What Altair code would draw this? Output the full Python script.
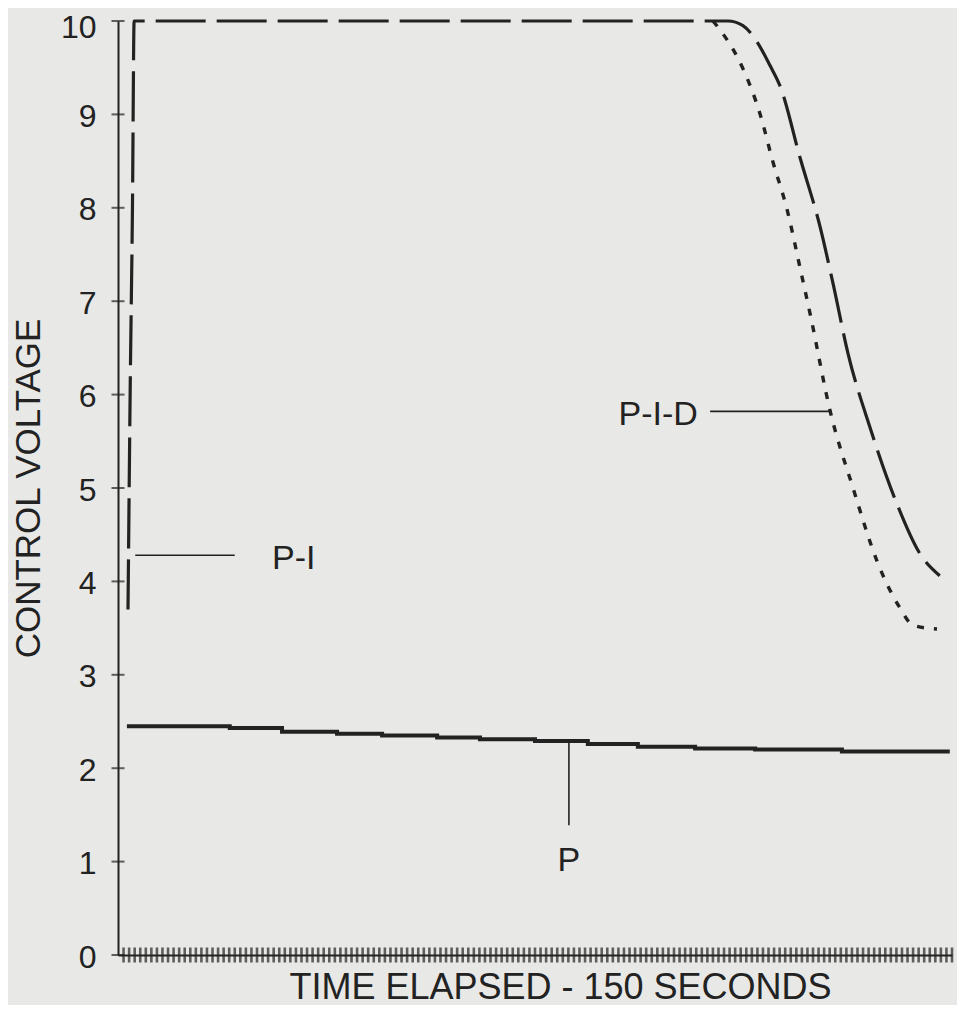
import altair as alt
import pandas as pd

# ---- data ----
# P-I controller (long dashes)
pi_t = [1.8, 2.2, 2.6, 2.9, 106.8, 109.7, 112.4, 114.9, 117.3, 119.1, 122.7, 126.3, 128.6, 131.3, 135.3, 140.1, 144.2, 147.8]
pi_v = [3.7, 6.1, 8.0, 10.0, 10.0, 10.0, 9.95, 9.78, 9.52, 9.30, 8.53, 7.79, 7.19, 6.44, 5.64, 4.83, 4.30, 4.06]

# P-I-D controller (short dashes)
pid_t = [107.0, 108.6, 112.4, 115.5, 117.8, 120.3, 122.7, 124.5, 128.1, 132.2, 136.5, 140.6, 143.0, 147.3]
pid_v = [10.0, 9.88, 9.49, 9.00, 8.49, 7.99, 7.35, 6.86, 5.82, 5.00, 4.22, 3.72, 3.53, 3.49]

# P controller (solid, stepped)
p_t = [1.6, 20.1, 29.5, 39.4, 47.5, 57.4, 65.1, 75.0, 84.5, 93.5, 103.8, 114.6, 130.2, 149.6]
p_v = [2.45, 2.43, 2.39, 2.37, 2.35, 2.33, 2.31, 2.29, 2.26, 2.23, 2.21, 2.20, 2.18, 2.18]

# axis ticks
y_ticks = list(range(0, 11))
x_ticks = list(range(1, 151))

# labels and leader lines
label_text = ["P-I", "P-I-D", "P"]
label_t = [27.7, 104.3, 81.1]
label_v = [4.24, 5.78, 1.01]
label_align = ["left", "right", "center"]

leader_t1 = [3.1, 106.5, 81.1]
leader_t2 = [21.0, 128.4, 81.1]
leader_v1 = [4.28, 5.82, 2.29]
leader_v2 = [4.28, 5.82, 1.39]

INK = "#222222"
FONT = "Liberation Sans"
W, H = 834, 934

xs = alt.Scale(domain=[0, 150], nice=False, zero=False)
ys = alt.Scale(domain=[0, 10], nice=False, zero=True)

x_axis = alt.Axis(
    labels=False, ticks=False, tickSize=0, grid=False, domain=True,
    domainColor=INK, domainWidth=2,
    title="TIME ELAPSED - 150 SECONDS", titleFont=FONT, titleFontSize=36,
    titleFontWeight="normal", titleColor=INK, titleX=442, titleY=32,
    titleAlign="center", titleBaseline="middle",
)
y_axis = alt.Axis(
    values=y_ticks, ticks=False, tickSize=0, grid=False, domain=True,
    domainColor=INK, domainWidth=2,
    labelFont=FONT, labelFontSize=32, labelColor=INK, labelPadding=22,
    labelBaseline="middle",
    labelOffset={"condition": {"test": "datum.value == 10", "value": 6}, "value": 2},
    title="CONTROL VOLTAGE", titleFont=FONT, titleFontSize=35,
    titleFontWeight="normal", titleColor=INK, titleAngle=270,
    titleX=-90, titleY=H / 2, titleAlign="center", titleBaseline="middle",
)


def X(field):
    return alt.X(field, type="quantitative", scale=xs, axis=x_axis)


def Y(field):
    return alt.Y(field, type="quantitative", scale=ys, axis=y_axis)


pi_df = pd.DataFrame({"t": pi_t, "v": pi_v})
pid_df = pd.DataFrame({"t": pid_t, "v": pid_v})
p_df = pd.DataFrame({"t": p_t, "v": p_v})
yt_df = pd.DataFrame({"v": y_ticks})
xt_df = pd.DataFrame({"t": x_ticks})
lab_df = pd.DataFrame({"label": label_text, "t": label_t, "v": label_v, "align": label_align})
lead_df = pd.DataFrame({"t": leader_t1, "t2": leader_t2, "v": leader_v1, "v2": leader_v2})

p_line = alt.Chart(p_df).mark_line(
    color=INK, strokeWidth=4, interpolate="step-after"
).encode(x=X("t"), y=Y("v"))

pi_line = alt.Chart(pi_df).mark_line(
    color=INK, strokeWidth=3.2, strokeDash=[50, 11], interpolate="monotone"
).encode(x=X("t"), y=Y("v"))

pid_line = alt.Chart(pid_df).mark_line(
    color=INK, strokeWidth=3.4, strokeDash=[7, 10], interpolate="monotone"
).encode(x=X("t"), y=Y("v"))

y_tick_marks = alt.Chart(yt_df).mark_tick(
    orient="horizontal", color=INK, size=13, thickness=2
).encode(y=Y("v"), x=alt.value(0))

x_tick_marks = alt.Chart(xt_df).mark_tick(
    orient="vertical", color=INK, size=15, thickness=2.6
).encode(x=X("t"), y=alt.value(H))

leaders = alt.Chart(lead_df).mark_rule(color=INK, strokeWidth=1.6).encode(
    x=X("t"), x2="t2", y=Y("v"), y2="v2"
)

base_text = dict(font=FONT, fontSize=34, color=INK, baseline="middle")
labels_left = alt.Chart(lab_df[lab_df["align"] == "left"]).mark_text(align="left", **base_text).encode(
    x=X("t"), y=Y("v"), text="label:N")
labels_right = alt.Chart(lab_df[lab_df["align"] == "right"]).mark_text(align="right", **base_text).encode(
    x=X("t"), y=Y("v"), text="label:N")
labels_center = alt.Chart(lab_df[lab_df["align"] == "center"]).mark_text(align="center", **base_text).encode(
    x=X("t"), y=Y("v"), text="label:N")

chart = alt.layer(
    p_line, pi_line, pid_line, y_tick_marks, x_tick_marks, leaders,
    labels_left, labels_right, labels_center,
).properties(
    width=W, height=H,
    autosize=alt.AutoSizeParams(type="none"),
    padding={"left": 110, "top": 13, "right": 5, "bottom": 50},
    background="#e8e8e6",
).configure_view(stroke=None)

chart.save("out.html", embed_options={"renderer": "svg", "actions": False})
